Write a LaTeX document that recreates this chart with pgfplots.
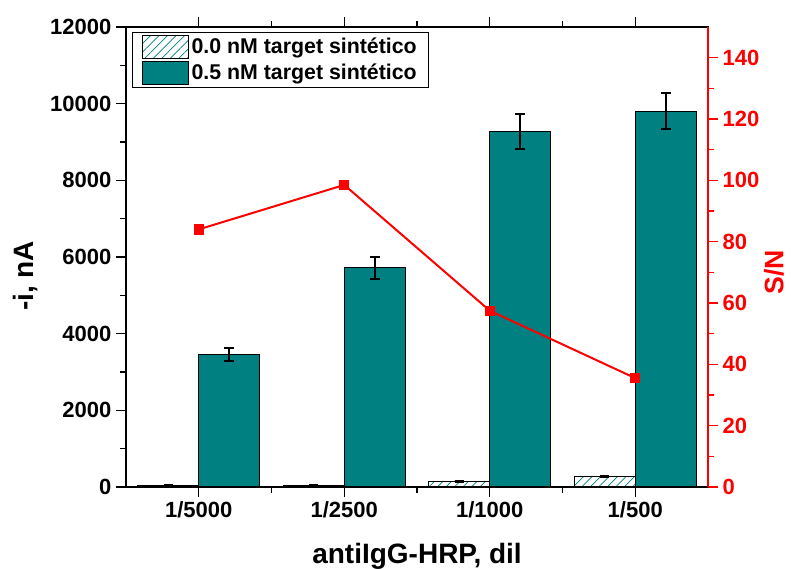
\documentclass[border=0pt]{standalone}
\usepackage{pgfplots}
\pgfplotsset{compat=1.18}
\usepackage{fontspec}
\setmainfont{Liberation Sans}
\usetikzlibrary{patterns.meta}
\definecolor{tealbar}{RGB}{0,128,128}

\begin{document}
\begin{tikzpicture}
\path[use as bounding box] (-94.5pt,-60.75pt) rectangle (498.75pt,365.25pt);
\begin{axis}[
  scale only axis, width=436.5pt, height=345pt,
  xmin=-0.5, xmax=3.5, ymin=0, ymax=12000,
  xtick={0,1,2,3}, xticklabels={1/5000,1/2500,1/1000,1/500},
  minor xtick={0.5,1.5,2.5},
  ytick={0,2000,...,12000}, minor ytick={1000,3000,...,11000},
  xtick pos=both, ytick pos=left,
  tick align=outside,
  major tick length=7.5pt, minor tick length=4.5pt,
  every tick/.style={black, line width=1pt},
  axis line style={line width=1.2pt},
  ticklabel style={font=\bfseries\fontsize{16.5}{18}\selectfont},
  /pgf/number format/assume math mode=true,
  scaled y ticks=false, yticklabel style={/pgf/number format/1000 sep={}},
  xlabel={antiIgG-HRP, dil}, ylabel={-i, nA},
  label style={font=\bfseries\fontsize{21}{24}\selectfont},
  xlabel style={at={(axis description cs:0.5,-0.112)}, anchor=north},
  ylabel style={at={(axis description cs:-0.1735,0.459)}, anchor=center},
  legend style={at={(axis description cs:0.01,0.99)}, anchor=north west,
    draw=black, line width=1pt, font=\bfseries\fontsize{16}{18}\selectfont,
    row sep=1pt, inner xsep=7pt, inner ysep=2pt},
  legend cell align=left,
  legend image code/.code={\draw[#1, line width=0.8pt] (0pt,-8.75pt) rectangle (34.5pt,8.75pt);},
]
\addplot[ybar, bar width=45.75pt, bar shift=0pt, draw=black, line width=0.8pt,
  pattern={Lines[angle=45,distance=4.5pt,line width=0.6pt]}, pattern color=tealbar,
  error bars/.cd, y dir=both, y explicit,
  error bar style={line width=1.2pt, black},
  error mark options={rotate=90, mark size=3.5pt, line width=1.2pt, black}]
  coordinates {(-0.2096,30) +- (0,15) (0.7904,50) +- (0,15) (1.7904,150) +- (0,20) (2.7904,270) +- (0,25)};
\addlegendentry{0.0 nM target sintético\hspace{14pt}}
\addplot[ybar, bar width=45.75pt, bar shift=0pt, draw=black, line width=0.8pt,
  fill=tealbar,
  error bars/.cd, y dir=both, y explicit,
  error bar style={line width=1.5pt, black},
  error mark options={rotate=90, mark size=3.75pt, line width=1.5pt, black}]
  coordinates {(0.2096,3450) +- (0,170) (1.2096,5720) +- (0,290) (2.2096,9270) +- (0,450) (3.2096,9800) +- (0,470)};
\addlegendentry{0.5 nM target sintético\hspace{14pt}}
\end{axis}
\begin{axis}[
  scale only axis, width=436.5pt, height=345pt,
  xmin=-0.5, xmax=3.5, ymin=0, ymax=150,
  axis x line=none, axis y line*=right,
  ytick={0,20,...,140}, minor ytick={10,30,...,130},
  tick align=outside,
  major tick length=7.5pt, minor tick length=4.5pt,
  every tick/.style={red, line width=1pt},
  axis line style={red, line width=1.5pt},
  ticklabel style={font=\bfseries\fontsize{16.5}{18}\selectfont, text=red},
  /pgf/number format/assume math mode=true,
  ylabel={S/N},
  ylabel style={font=\bfseries\fontsize{20}{22}\selectfont, text=red,
    at={(axis description cs:1.1135,0.467)}, anchor=center},
]
\addplot[red, line width=1.5pt, mark=square*, mark size=3.5pt, mark options={fill=red, draw=red, line width=0pt}]
  coordinates {(0,84) (1,98.5) (2,57.5) (3,35.5)};
\end{axis}
\end{tikzpicture}
\end{document}
